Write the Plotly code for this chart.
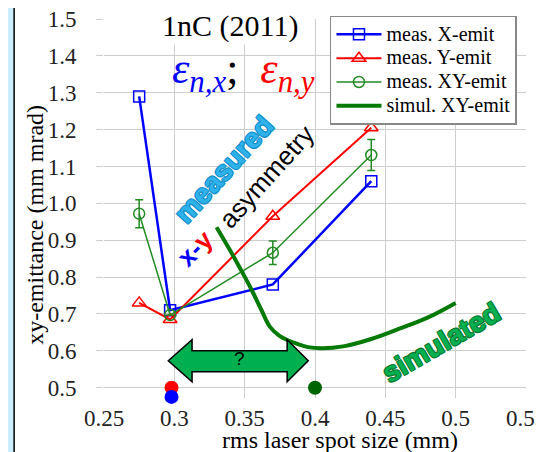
import plotly.graph_objects as go

# ---- data ----
x_meas = [0.275, 0.297, 0.370, 0.440]
x_emit = [1.29, 0.71, 0.78, 1.06]
y_emit = [0.73, 0.685, 0.965, 1.205]
xy_emit = [0.972, 0.697, 0.866, 1.131]
xy_err = [0.038, 0.0, 0.032, 0.042]

sim_x = [0.330, 0.340, 0.347, 0.355, 0.362, 0.368, 0.375, 0.385, 0.395, 0.405,
         0.420, 0.440, 0.460, 0.480, 0.500]
sim_y = [0.935, 0.870, 0.822, 0.765, 0.710, 0.665, 0.640, 0.622, 0.610, 0.607,
         0.612, 0.632, 0.660, 0.690, 0.730]

dot_x = [0.298, 0.298, 0.400]
dot_y = [0.500, 0.475, 0.500]
dot_colors = ["#ff0000", "#0000ff", "#006400"]

series_names = ["meas. X-emit", "meas. Y-emit", "meas. XY-emit", "simul. XY-emit"]

x_ticks = [0.25, 0.3, 0.35, 0.4, 0.45, 0.5, 0.55]
x_tick_text = ["0.25", "0.3", "0.35", "0.4", "0.45", "0.5", "0.55"]
y_ticks = [0.5, 0.6, 0.7, 0.8, 0.9, 1.0, 1.1, 1.2, 1.3, 1.4, 1.5]
y_tick_text = ["0.5", "0.6", "0.7", "0.8", "0.9", "1.0", "1.1", "1.2", "1.3", "1.4", "1.5"]

# arrow outline (data coords)
arr_x = [0.2957, 0.3126, 0.3802, 0.3952]
arr_y = [0.630, 0.600, 0.573, 0.543, 0.516]

SERIF = "Liberation Serif"
SANS = "Liberation Sans"

def lname(s):
    return f'<span style="font-size:20px">{s}</span>'

fig = go.Figure()

fig.add_trace(go.Scatter(
    x=x_meas, y=x_emit, mode="lines+markers", name=lname(series_names[0]),
    line=dict(color="#0000ff", width=2.5),
    marker=dict(symbol="square-open", size=11, color="#0000ff", line=dict(width=1.5)),
))
fig.add_trace(go.Scatter(
    x=x_meas, y=y_emit, mode="lines+markers", name=lname(series_names[1]),
    line=dict(color="#ff0000", width=2),
    marker=dict(symbol="triangle-up-open", size=12, color="#ff0000", line=dict(width=1.5)),
))
fig.add_trace(go.Scatter(
    x=x_meas, y=xy_emit, mode="lines+markers", name=lname(series_names[2]),
    line=dict(color="#228b22", width=1.5),
    marker=dict(symbol="circle-open", size=11, color="#228b22", line=dict(width=1.5)),
    error_y=dict(type="data", array=xy_err, color="#228b22", thickness=1.5, width=4),
))
fig.add_trace(go.Scatter(
    x=sim_x, y=sim_y, mode="lines", name=lname(series_names[3]),
    line=dict(color="#067a06", width=4, shape="spline"),
))
fig.add_trace(go.Scatter(
    x=dot_x, y=dot_y, mode="markers", showlegend=False,
    marker=dict(size=14, color=dot_colors), cliponaxis=False,
))

# background panel
fig.add_shape(type="rect", xref="paper", yref="paper",
              x0=-0.213, x1=1.2, y0=-0.3, y1=1.037,
              fillcolor="white", line=dict(color="black", width=1.5), layer="below")

# double arrow
ax, ay = arr_x, arr_y
path = (f"M {ax[0]} {ay[2]} L {ax[1]} {ay[0]} L {ax[1]} {ay[1]} L {ax[2]} {ay[1]} "
        f"L {ax[2]} {ay[0]} L {ax[3]} {ay[2]} L {ax[2]} {ay[4]} L {ax[2]} {ay[3]} "
        f"L {ax[1]} {ay[3]} L {ax[1]} {ay[4]} Z")
fig.add_shape(type="path", xref="x", yref="y", path=path,
              fillcolor="#00b050", line=dict(color="black", width=1.5))

def outline(c):
    return f"1px 1px 0 {c}, -1px -1px 0 {c}, 1px -1px 0 {c}, -1px 1px 0 {c}"

C = dict(showarrow=False, xanchor="center", yanchor="middle")
anns = [
    dict(x=0.346, y=0.578, xref="x", yref="y", text="?",
         font=dict(family=SANS, size=19, color="black"), **C),
    dict(x=0.2986, y=0.982, xref="paper", yref="paper", text="1nC (2011)",
         font=dict(family=SERIF, size=30, color="black"), bgcolor="white", **C),
    dict(x=0.33, y=0.862, xref="paper", yref="paper",
         text=('<span style="color:#0000ff"><i>ε</i><sub><i>n,x</i></sub></span>'
               '<span style="color:black">;  </span>'
               '<span style="color:#ff0000"><i>ε</i><sub><i>n,y</i></sub></span>'),
         font=dict(family=SERIF, size=44), **C),
    dict(x=0.3354, y=1.091, xref="x", yref="y", text="<b>measured</b>",
         textangle=-48, font=dict(family=SANS, size=28, color="#2fb2ea",
                                  shadow=outline("#1590cc")), **C),
    dict(x=0.3653, y=1.072, xref="x", yref="y", text="asymmetry",
         textangle=-48, font=dict(family=SANS, size=26, color="black"), **C),
    dict(x=0.3148, y=0.879, xref="x", yref="y", textangle=-45,
         text='<b><span style="color:#0000ff">x-</span><span style="color:#ff0000">y</span></b>',
         font=dict(family=SANS, size=26), **C),
    dict(x=0.490, y=0.622, xref="x", yref="y", text="<b>simulated</b>",
         textangle=-30, font=dict(family=SANS, size=28, color="#00b050",
                                  shadow=outline("#0a7a30")), **C),
    dict(x=-0.1635, y=0.457, xref="paper", yref="paper", text="xy-emittance (mm mrad)",
         textangle=-90, font=dict(family=SERIF, size=24, color="black"), **C),
    dict(x=0.559, y=-0.112, xref="paper", yref="paper", text="rms laser spot size (mm)",
         font=dict(family=SERIF, size=24, color="black"), **C),
]
fig.update_layout(annotations=anns)

fig.update_xaxes(range=[0.25, 0.55], tickvals=x_ticks, ticktext=x_tick_text,
                 showgrid=True, gridcolor="#cdcdcd", gridwidth=1.2, zeroline=False,
                 ticks="", showline=False, ticklabeloverflow="allow",
                 ticklabelstandoff=4,
                 tickfont=dict(family=SERIF, size=23, color="#222"))
fig.update_yaxes(range=[0.472, 1.5], tickvals=y_ticks, ticktext=y_tick_text,
                 showgrid=True, gridcolor="#cdcdcd", gridwidth=1.2, zeroline=False,
                 ticks="outside", ticklen=7, tickcolor="#cdcdcd",
                 showline=False, ticklabelstandoff=15, ticklabeloverflow="allow",
                 tickfont=dict(family=SERIF, size=23, color="#222"))

# page body has an 8px default margin: plot area shifted accordingly
fig.update_layout(
    width=544, height=452, autosize=False,
    margin=dict(l=96, r=26, t=11, b=61.7, autoexpand=False),
    paper_bgcolor="#cdeefc", plot_bgcolor="rgba(0,0,0,0)",
    showlegend=True,
    legend=dict(x=0.5355, y=1.008, xanchor="left", yanchor="top",
                bgcolor="white", bordercolor="#888888", borderwidth=1.5,
                font=dict(family=SERIF, size=16, color="black"),
                tracegroupgap=0, itemwidth=45),
)

fig.write_html("out.html")
